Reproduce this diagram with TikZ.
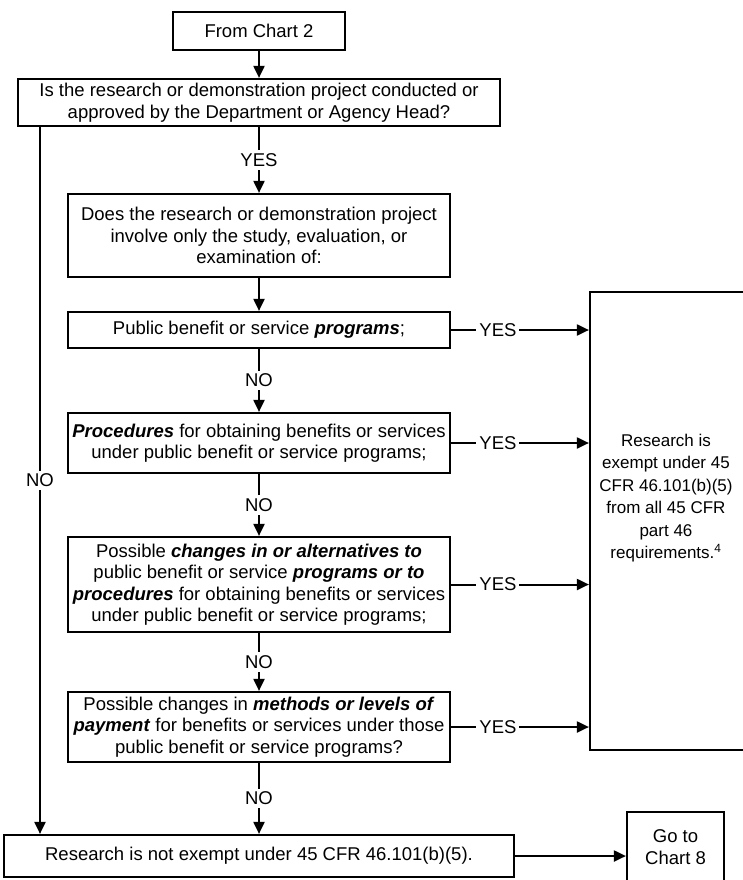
\documentclass[tikz,border=0pt]{standalone}
\usepackage{fontspec}
\setmainfont{Liberation Sans}
\usetikzlibrary{arrows.meta, positioning, calc}

\newcommand{\bfit}[1]{\textbf{\textit{#1}}}

\begin{document}
\begin{tikzpicture}[x=1pt, y=-1pt,
  box/.style={draw, line width=2.2pt, align=center, inner sep=2pt, font=\fontsize{18.5}{21.5}\selectfont},
  arrow/.style={-{Triangle[length=12pt, width=11pt]}, line width=2pt},
  lbl/.style={fill=white, inner sep=3pt, font=\fontsize{18.5}{21.5}\selectfont}
]
  \useasboundingbox (0,0) rectangle (742,880);

  % Question chain
  \node[box, minimum width=172pt, minimum height=38pt] (from) at (259, 31) {From Chart 2};
  \node[box, minimum width=482pt, minimum height=47pt] (agency) at (259, 102.5) {Is the research or demonstration project conducted or\\approved by the Department or Agency Head?};
  \node[box, minimum width=382pt, minimum height=83pt] (involve) at (259, 235.5) {Does the research or demonstration project\\involve only the study, evaluation, or\\examination of:};
  \node[box, minimum width=382pt, minimum height=36pt] (programs) at (259, 330) {Public benefit or service \bfit{programs};};
  \node[box, minimum width=382pt, minimum height=60pt] (procedures) at (259, 443) {\bfit{Procedures} for obtaining benefits or services\\under public benefit or service programs;};
  \node[box, minimum width=382pt, minimum height=95pt] (changes) at (259, 584.5) {Possible \bfit{changes in or alternatives to}\\public benefit or service \bfit{programs or to}\\\bfit{procedures} for obtaining benefits or services\\under public benefit or service programs;};
  \node[box, minimum width=382pt, minimum height=70pt] (payment) at (259, 727) {Possible changes in \bfit{methods or levels of}\\\bfit{payment} for benefits or services under those\\public benefit or service programs?};
  \node[box, minimum width=510pt, minimum height=42pt] (notex) at (259, 856) {Research is not exempt under 45 CFR 46.101(b)(5).};

  % Outcomes
  \node[box, minimum width=155pt, minimum height=458pt] (exempt) at (667.5, 521) {};
  \node[align=center, font=\fontsize{17}{22.5}\selectfont] (exempttext) at (666, 498) {Research is\\exempt under 45\\CFR 46.101(b)(5)\\from all 45 CFR\\part 46\\requirements.\textsuperscript{4}};
  \node[box, minimum width=97pt, minimum height=70pt] (chart8) at (675.5, 847) {Go to\\Chart 8};

  \coordinate (track) at (40, 0);

  % Main path
  \draw[arrow] (from) -- (agency);
  \draw[arrow] (agency) -- node[lbl] {YES} (involve);
  \draw[arrow] (involve) -- (programs);
  \draw[arrow] (programs) -- node[lbl] {NO} (procedures);
  \draw[arrow] (procedures) -- node[lbl] {NO} (changes);
  \draw[arrow] (changes) -- node[lbl] {NO} (payment);
  \draw[arrow] (payment) -- node[lbl] {NO} (notex);
  \draw[arrow] (agency.south -| track) -- node[lbl] {NO} (notex.north -| track);

  % YES branches
  \foreach \q in {programs, procedures, changes, payment}
    \draw[arrow] (\q.east) -- node[lbl, pos=0.34] {YES} (\q.east -| exempt.west);

  \draw[arrow] (notex.east) -- (notex.east -| chart8.west);
\end{tikzpicture}
\end{document}
